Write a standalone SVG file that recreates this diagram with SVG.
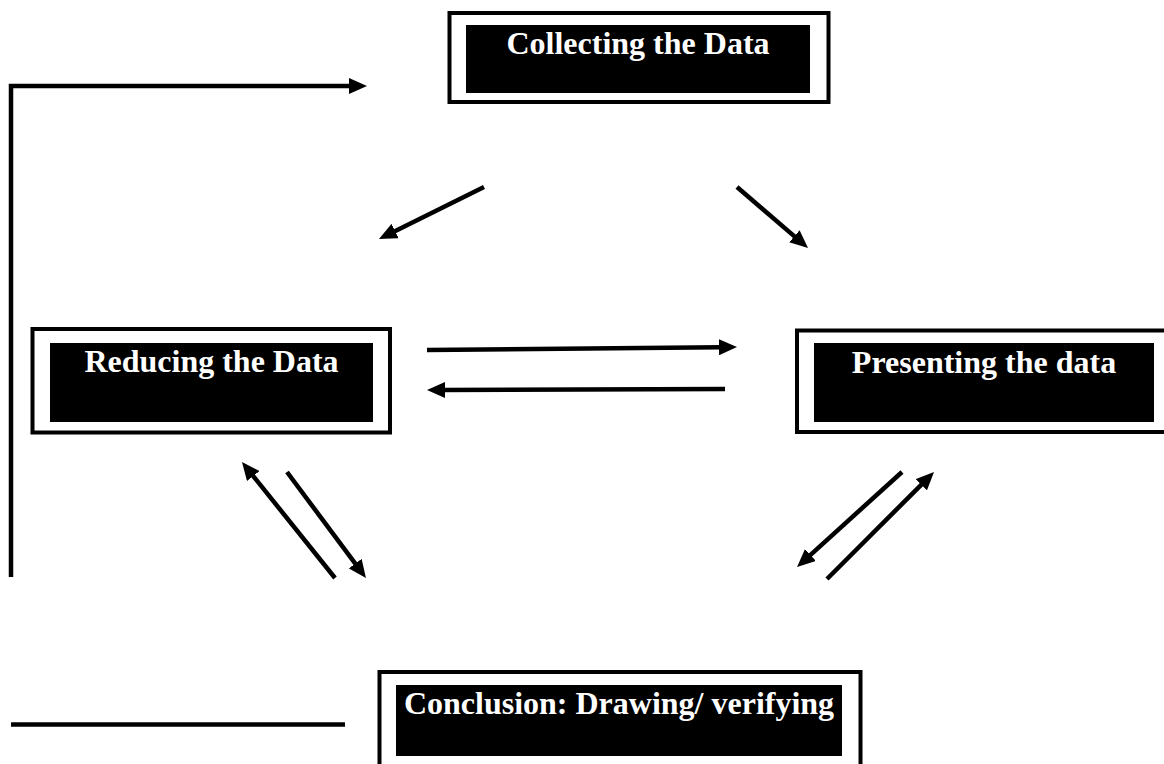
<svg xmlns="http://www.w3.org/2000/svg" width="1164" height="764" viewBox="0 0 1164 764">
<style>
.outer{fill:#fff;stroke:#000;stroke-width:4}
.inner{fill:#000}
.lbl{font-family:"Liberation Serif","Times New Roman",serif;font-weight:bold;font-size:32px;fill:#fff;text-anchor:middle}
.conn{fill:none;stroke:#000;stroke-width:4.5;stroke-linejoin:miter}
</style>
<defs>
<marker id="ah" viewBox="0 0 18 16" markerWidth="18" markerHeight="16" refX="2" refY="8" orient="auto" markerUnits="userSpaceOnUse">
<path d="M0,0 L18,8 L0,16 Z" fill="#000"/>
</marker>
</defs>
<rect width="1164" height="764" fill="#fff"/>
<g id="collecting">
<rect class="outer" x="449.5" y="13" width="379" height="89"/>
<rect class="inner" x="466" y="25" width="344" height="68"/>
<text class="lbl" x="638" y="54">Collecting the Data</text>
</g>
<g id="reducing">
<rect class="outer" x="32.5" y="329" width="357.5" height="103.5"/>
<rect class="inner" x="50" y="343" width="323" height="79"/>
<text class="lbl" x="211.5" y="372">Reducing the Data</text>
</g>
<g id="presenting">
<rect class="outer" x="797" y="330.5" width="371" height="101.5"/>
<rect class="inner" x="814" y="343" width="340" height="79"/>
<text class="lbl" x="984" y="373">Presenting the data</text>
</g>
<g id="conclusion">
<rect class="outer" x="379.5" y="672" width="481" height="100"/>
<rect class="inner" x="396" y="685" width="446" height="71"/>
<text class="lbl" x="619" y="714">Conclusion: Drawing/ verifying</text>
</g>
<g id="connectors">
<path class="conn" d="M11,577 V86 H351" marker-end="url(#ah)"/>
<path class="conn" d="M484,187 L393.3,231.9" marker-end="url(#ah)"/>
<path class="conn" d="M737,187 L795.9,237.6" marker-end="url(#ah)"/>
<path class="conn" d="M427,350 L721,347.2" marker-end="url(#ah)"/>
<path class="conn" d="M725,389 L443,390" marker-end="url(#ah)"/>
<path class="conn" d="M335,578 L252,474.5" marker-end="url(#ah)"/>
<path class="conn" d="M287,472 L356.4,565.2" marker-end="url(#ah)"/>
<path class="conn" d="M902,472 L808.9,556.3" marker-end="url(#ah)"/>
<path class="conn" d="M827,579 L922.7,483.3" marker-end="url(#ah)"/>
<path class="conn" d="M11,724.5 H345" stroke-width="5"/>
</g>
</svg>
